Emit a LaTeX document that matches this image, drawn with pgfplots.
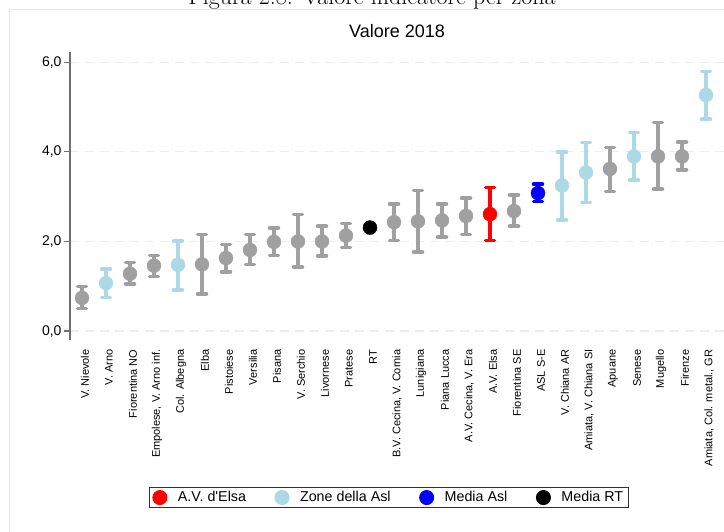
\documentclass[border=0pt]{standalone}
\usepackage{fontspec}
\usepackage{pgfplots}
\usepackage{pgfplotstable}
\pgfplotsset{compat=1.18}
\newfontfamily\lsans{Liberation Sans}
\definecolor{zgray}{RGB}{160,160,160}
\definecolor{zlight}{RGB}{173,216,230}
\definecolor{axgray}{RGB}{110,110,110}

% x y ep em  (valore, distanza dal limite sup/inf)
\pgfplotstableread{
x y ep em
0 0.74 0.25 0.24
2 1.28 0.25 0.23
3 1.46 0.23 0.24
5 1.49 0.66 0.66
6 1.63 0.30 0.31
7 1.81 0.34 0.32
8 1.99 0.31 0.30
9 2.00 0.60 0.57
10 2.00 0.34 0.32
11 2.13 0.27 0.27
13 2.43 0.41 0.41
14 2.45 0.69 0.69
15 2.47 0.37 0.37
16 2.57 0.40 0.41
18 2.68 0.36 0.34
22 3.62 0.48 0.50
24 3.90 0.76 0.73
25 3.90 0.32 0.30
}\zonegray
\pgfplotstableread{
x y ep em
1 1.07 0.31 0.32
4 1.48 0.53 0.56
20 3.25 0.75 0.77
21 3.54 0.67 0.67
23 3.90 0.53 0.53
26 5.27 0.53 0.54
}\zoneasl
\pgfplotstableread{
x y ep em
17 2.61 0.60 0.59
}\avelsa
\pgfplotstableread{
x y ep em
19 3.08 0.20 0.19
}\mediaasl
\pgfplotstableread{
x y
12 2.31
}\mediart

\pgfplotsset{
  zona/.style={only marks, mark=*, mark size=7pt, color=#1,
    mark options={fill=#1, draw=#1},
    error bars/y dir=both, error bars/y explicit,
    error bars/error bar style={line width=3.5pt, #1},
    error bars/error mark options={rotate=90, mark size=4.5pt, line width=3.5pt, line cap=round, #1}},
}

\begin{document}
\begin{tikzpicture}
\useasboundingbox (0,0) rectangle (724pt,-531pt);
\clip (0,0) rectangle (724pt,-531pt);
\node[anchor=base, font=\fontsize{24}{28}\selectfont] at (372pt,-4.5pt) {Figura 2.8: Valore indicatore per zona};
\draw[black!10, line width=1pt] (9pt,-9pt) rectangle (740pt,-545pt);
\begin{axis}[
  at={(70pt,-340pt)}, anchor=south west,
  scale only axis, width=654pt, height=288pt,
  xmin=-0.5, xmax=26.75, ymin=-0.2, ymax=6.23,
  axis lines*=left, axis line style={-},
  x axis line style={draw=none},
  y axis line style={draw=axgray, line width=1.5pt},
  xtick={0,...,26}, xtick style={draw=none},
  ytick={0,2,4,6}, ytick style={draw=axgray, line width=1.2pt},
  tick align=outside, major tick length=6pt,
  ymajorgrids, grid style={black!7, line width=1.2pt, dash pattern=on 9pt off 6pt},
  /pgf/number format/assume math mode=true,
  yticklabel style={font=\lsans\fontsize{14}{16}\selectfont, xshift=1pt,
    /pgf/number format/.cd, fixed, fixed zerofill, precision=1, use comma},
  xticklabel style={font=\lsans\fontsize{11}{13}\selectfont, rotate=90, anchor=east, yshift=-3pt},
  xticklabels={V. Nievole, V. Arno, Fiorentina NO, {Empolese, V. Arno inf.}, Col. Albegna, Elba,
    Pistoiese, Versilia, Pisana, V. Serchio, Livornese, Pratese, RT, {B.V. Cecina, V. Cornia},
    Lunigiana, Piana Lucca, {A.V. Cecina, V. Era}, A.V. Elsa, Fiorentina SE, ASL S-E,
    V. Chiana AR, {Amiata, V. Chiana SI}, Apuane, Senese, Mugello, Firenze, {Amiata, Col. metal., GR}},
  title={Valore 2018},
  title style={font=\lsans\fontsize{18}{21}\selectfont, at={(0.5,1)}, anchor=base, yshift=8.5pt},
  legend columns=-1,
  legend style={at={(0.4878,-0.547)}, anchor=center, draw=black!80, line width=1pt,
    font=\lsans\fontsize{14.3}{17}\selectfont,
    /tikz/every odd column/.append style={column sep=9pt},
    /tikz/every even column/.append style={column sep=27pt}},
]
\addplot[zona=zgray, forget plot] table[x=x, y=y, y error plus=ep, y error minus=em] {\zonegray};
\addplot[zona=red] table[x=x, y=y, y error plus=ep, y error minus=em] {\avelsa};
\addlegendentry{A.V. d'Elsa}
\addplot[zona=zlight] table[x=x, y=y, y error plus=ep, y error minus=em] {\zoneasl};
\addlegendentry{Zone della Asl}
\addplot[zona=blue] table[x=x, y=y, y error plus=ep, y error minus=em] {\mediaasl};
\addlegendentry{Media Asl}
\addplot[only marks, mark=*, mark size=7pt, color=black] table[x=x, y=y] {\mediart};
\addlegendentry{Media RT}
\end{axis}
\end{tikzpicture}
\end{document}
